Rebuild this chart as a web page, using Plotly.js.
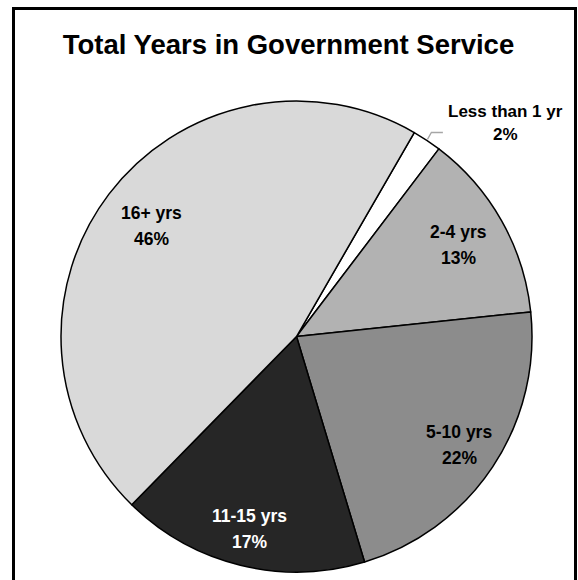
<!DOCTYPE html>
<html>
<head>
<meta charset="utf-8">
<script src="https://cdn.plot.ly/plotly-3.0.1.min.js"></script>
<style>
html,body{margin:0;padding:0;background:#fff;}
#chart{width:578px;height:580px;}
</style>
</head>
<body>
<div id="chart"></div>
<script>
// ---- data ----
const categories = ["Less than 1 yr", "2-4 yrs", "5-10 yrs", "11-15 yrs", "16+ yrs"];
const values = [2, 13, 22, 17, 46];
// ---- styles ----
const sliceColors = ["#ffffff", "#b2b2b2", "#8c8c8c", "#262626", "#d9d9d9"];
const textColors = ["#000000", "#000000", "#000000", "#ffffff", "#000000"];
const labelRadius = [0, 0.79, 0.83, 0.84, 0.775];   // fraction of pie radius (0 = outside label)

const W = 578, H = 580;
const CX = 296.5, CY = 336.5, R = 235.5;
const ROT = 30;
const FONT = "'Liberation Sans', Arial, sans-serif";

const total = values.reduce((a, b) => a + b, 0);
const toPX = x => x / W;
const toPY = y => 1 - y / H;

const trace = {
  type: "pie",
  labels: categories,
  values: values,
  sort: false,
  direction: "clockwise",
  rotation: ROT,
  marker: { colors: sliceColors, line: { color: "#000000", width: 1.5 } },
  textinfo: "none",
  domain: { x: [toPX(CX - R), toPX(CX + R)], y: [toPY(CY + R), toPY(CY - R)] },
  hoverinfo: "none",
  showlegend: false
};

const annotations = [];
const shapes = [{
  type: "rect", xref: "paper", yref: "paper",
  x0: toPX(13.5), x1: toPX(575.5), y0: -0.02, y1: toPY(8.5),
  line: { color: "#000000", width: 3 }
}];

let cum = 0;
values.forEach((v, i) => {
  const mid = (ROT + (cum + v / 2) / total * 360) * Math.PI / 180;
  cum += v;
  const pct = Math.round(v / total * 100) + "%";
  const font = { family: FONT, size: 17.5, color: textColors[i], weight: "bold" };
  if (labelRadius[i] > 0) {
    const x = CX + labelRadius[i] * R * Math.sin(mid);
    const y = CY - labelRadius[i] * R * Math.cos(mid);
    annotations.push({ xref: "paper", yref: "paper", x: toPX(x), y: toPY(y), text: "<b>" + categories[i] + "</b>",
      showarrow: false, xanchor: "center", yanchor: "middle", yshift: 13, font: font });
    annotations.push({ xref: "paper", yref: "paper", x: toPX(x), y: toPY(y), text: "<b>" + pct + "</b>",
      showarrow: false, xanchor: "center", yanchor: "middle", yshift: -13, font: font });
  } else {
    // outside label with leader line
    const x0 = CX + R * 1.005 * Math.sin(mid), y0 = CY - R * 1.005 * Math.cos(mid);
    const x1 = CX + R * 1.035 * Math.sin(mid), y1 = CY - R * 1.035 * Math.cos(mid) - 1;
    const x2 = x1 + 11.5, y2 = y1;
    shapes.push({ type: "path", xref: "paper", yref: "paper",
      path: `M ${toPX(x0)},${toPY(y0)} L ${toPX(x1)},${toPY(y1)} L ${toPX(x2)},${toPY(y2)}`,
      line: { color: "#a6a6a6", width: 1.3 } });
    const lx = x2 + 62.5, ly = y2 - 9.5;
    annotations.push({ xref: "paper", yref: "paper", x: toPX(lx), y: toPY(ly), text: "<b>" + categories[i] + "</b>",
      showarrow: false, xanchor: "center", yanchor: "middle", yshift: 11.75, font: { ...font, size: 17 } });
    annotations.push({ xref: "paper", yref: "paper", x: toPX(lx), y: toPY(ly), text: "<b>" + pct + "</b>",
      showarrow: false, xanchor: "center", yanchor: "middle", yshift: -11.75, font: { ...font, size: 17 } });
  }
});

const layout = {
  width: W,
  height: H,
  margin: { l: 0, r: 0, t: 0, b: 0 },
  paper_bgcolor: "#ffffff",
  title: {
    text: "<b>Total Years in Government Service</b>",
    font: { family: FONT, size: 27.5, color: "#000000" },
    x: toPX(288.5), xanchor: "center",
    y: toPY(44.5), yanchor: "middle"
  },
  shapes: shapes,
  annotations: annotations,
  showlegend: false
};

Plotly.newPlot("chart", [trace], layout, { displayModeBar: false, staticPlot: true });
</script>
</body>
</html>
